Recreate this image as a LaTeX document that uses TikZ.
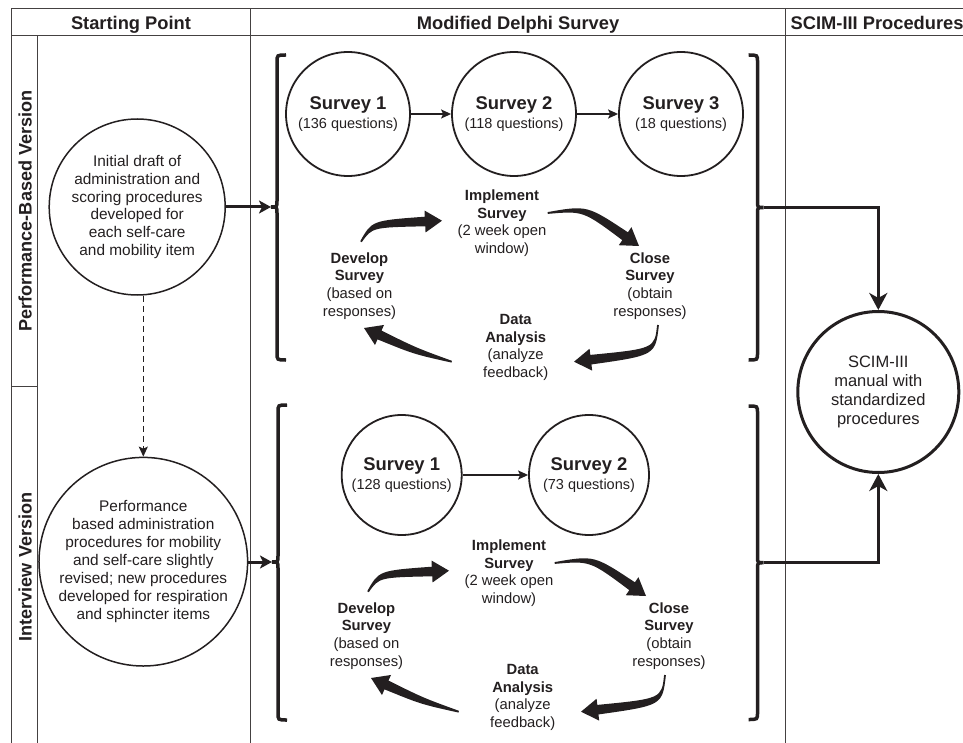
\documentclass[tikz,border=0pt]{standalone}
\usepackage{fontspec}
\setmainfont{Liberation Sans}
\usetikzlibrary{calc,arrows.meta}
\definecolor{ink}{HTML}{231F20}
\newcommand\hfont{\fontsize{18.3}{22}\selectfont\bfseries}
\newcommand\cfont{\fontsize{14.8}{17.7}\selectfont}
\newcommand\swoosh[4]{%
  \coordinate (#1s) at #2; \coordinate (#1c) at #3; \coordinate (#1t) at #4;
  \coordinate (#1b) at ($(#1t)!17pt!(#1c)$);
  \fill[ink] ($(#1s)!0.9pt!90:(#1c)$) .. controls ($(#1c)!3.4pt!90:(#1t)$) .. ($(#1b)!4.8pt!90:(#1t)$)
     -- ($(#1b)!11pt!90:(#1t)$) -- (#1t) -- ($(#1b)!11pt!-90:(#1t)$)
     -- ($(#1b)!4.8pt!-90:(#1t)$) .. controls ($(#1c)!3.4pt!-90:(#1t)$) .. ($(#1s)!0.9pt!-90:(#1c)$) -- cycle;}
\newcommand\brkL[4]{%
  \draw[brk] ({#1+9},#2) .. controls (#1,#2) .. (#1,{#2+7}) -- (#1,{#3-6})
    .. controls (#1,#3) .. ({#1-6},#3) .. controls (#1,#3) .. (#1,{#3+6})
    -- (#1,{#4-7}) .. controls (#1,#4) .. ({#1+9},#4);}
\newcommand\brkR[4]{%
  \draw[brk] ({#1-9},#2) .. controls (#1,#2) .. (#1,{#2+7}) -- (#1,{#3-6})
    .. controls (#1,#3) .. ({#1+6},#3) .. controls (#1,#3) .. (#1,{#3+6})
    -- (#1,{#4-7}) .. controls (#1,#4) .. ({#1-9},#4);}
\newcommand\delphicycle[2]{%
  \node[ctext] (#1impl) at (502,223.3) {\textbf{Implement}\\\textbf{Survey}\\(2 week open\\window)};
  \node[ctext] (#1dev) at (359.5,286) {\textbf{Develop}\\\textbf{Survey}\\(based on\\responses)};
  \node[ctext] (#1close) at (#2,286) {\textbf{Close}\\\textbf{Survey}\\(obtain\\responses)};
  \node[ctext] (#1data) at (515.7,347.5) {\textbf{Data}\\\textbf{Analysis}\\(analyze\\feedback)};
  \swoosh{#1a}{(361,241.7)}{(372,224)}{(442,220.7)}
  \swoosh{#1b}{(547.7,213)}{(585,208)}{(639,246)}
  \swoosh{#1c}{(658,325)}{(655,352)}{(574,361.7)}
  \swoosh{#1d}{(451.7,361.7)}{(415,351)}{(364,328)}}
\begin{document}
\begin{tikzpicture}[x=1pt,y=-1pt,
  every node/.style={text=ink},
  tline/.style={draw=ink!85, line width=1pt},
  brk/.style={draw=ink, line width=3.5pt},
  ctext/.style={align=center, inner sep=0pt, font=\cfont},
  surv/.style={circle, draw=ink, line width=1.8pt, inner sep=0pt, align=center,
    font=\fontsize{14.5}{19.5}\selectfont},
  startc/.style={circle, draw=ink, line width=1.5pt, inner sep=0pt, align=center,
    font=\fontsize{15.4}{17.9}\selectfont},
  rowlabel/.style={rotate=90, anchor=base, font=\fontsize{18.1}{20}\selectfont\bfseries},
  sarrow/.style={draw=ink, line width=1.5pt, -{Stealth[length=10pt,width=9pt,inset=2pt]}},
  fatarrow/.style={draw=ink, line width=3pt, -{Stealth[length=12pt,width=13pt,inset=3pt]}},
  conn/.style={draw=ink, line width=3.5pt, -{Stealth[length=17pt,width=18pt,inset=5pt]}},
  dasharrow/.style={draw=ink, line width=1.6pt, dash pattern=on 6pt off 4pt,
    -{Stealth[length=10pt,width=9pt,inset=2pt]}}]
\useasboundingbox (0,0) rectangle (963,743);
\clip (0,0) rectangle (963,743);
% table
\draw[tline] (11,9) -- (963,9);
\draw[tline] (11,36) -- (963,36);
\draw[tline] (11,9) -- (11,743);
\draw[tline] (37.3,36) -- (37.3,743);
\draw[tline] (250,9) -- (250,743);
\draw[tline] (785.7,9) -- (785.7,743);
\draw[tline] (11,386.7) -- (37.3,386.7);
% headers
\node[font=\hfont, anchor=base] (h1) at (131,29.5) {Starting Point};
\node[font=\hfont, anchor=base] (h2) at (518,29.5) {Modified Delphi Survey};
\node[font=\hfont, anchor=base west, inner sep=0pt] (h3) at (790.5,29.5) {SCIM-III Procedures};
% row labels
\node[rowlabel] (r1) at (31.5,211) {Performance-Based Version};
\node[rowlabel] (r2) at (31.5,567) {Interview Version};
% starting point circles
\node[startc, minimum size=176pt] (c1) at (137.2,207)
  {Initial draft of\\administration and\\scoring procedures\\developed for\\each self-care\\and mobility item};
\node[startc, minimum size=193pt] (c2) at (143.3,561.7)
  {Performance\\based administration\\procedures for mobility\\and self-care slightly\\revised; new procedures\\developed for respiration\\and sphincter items};
\draw[dasharrow] (c2.north |- c1.south) -- (c2.north);
% brackets
\brkL{277}{55}{207}{360}
\brkR{757.5}{55}{207.5}{360}
\brkL{278}{405}{562}{720}
\brkR{757.5}{406}{562.7}{719.5}
\coordinate (bl1) at (271,207);
\coordinate (bl2) at (272,562);
\coordinate (br1) at (763.5,207.5);
\coordinate (br2) at (763.5,562.7);
\draw[fatarrow] (c1.east) -- (bl1);
\draw[fatarrow] (c2.east |- bl2) -- (bl2);
% surveys, upper
\node[surv, minimum size=124pt] (us1) at (348,114)
  {{\fontsize{18.4}{19.5}\selectfont\bfseries Survey 1}\\(136 questions)};
\node[surv, minimum size=124pt] (us2) at (514,114)
  {{\fontsize{18.4}{19.5}\selectfont\bfseries Survey 2}\\(118 questions)};
\node[surv, minimum size=124pt] (us3) at (681,114)
  {{\fontsize{18.4}{19.5}\selectfont\bfseries Survey 3}\\(18 questions)};
\draw[sarrow] (us1) -- (us2);
\draw[sarrow] (us2) -- (us3);
% surveys, lower
\node[surv, minimum size=120pt] (ls1) at (401.7,475)
  {{\fontsize{18.4}{19.5}\selectfont\bfseries Survey 1}\\(128 questions)};
\node[surv, minimum size=120pt] (ls2) at (589,475)
  {{\fontsize{18.4}{19.5}\selectfont\bfseries Survey 2}\\(73 questions)};
\draw[sarrow] (ls1) -- (ls2);
% cycles
\delphicycle{u}{650}
\begin{scope}[shift={(7,350)}]
\delphicycle{l}{662}
\end{scope}
% SCIM
\node[circle, draw=ink, line width=3pt, minimum size=161pt, inner sep=0pt, align=center,
  font=\fontsize{16.5}{19.2}\selectfont] (scim) at (878.3,392)
  {SCIM-III\\manual with\\standardized\\procedures};
\draw[conn] (br1) -| (scim.north);
\draw[conn] (br2) -| (scim.south);
\end{tikzpicture}
\end{document}
